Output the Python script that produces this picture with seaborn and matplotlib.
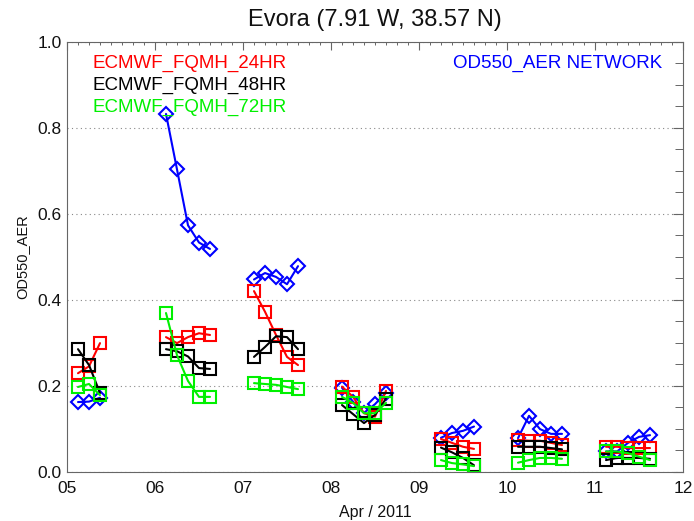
import numpy as np
import pandas as pd
import matplotlib
matplotlib.use("Agg")
import matplotlib.pyplot as plt
import seaborn as sns
from matplotlib.ticker import FixedLocator, MultipleLocator

# Observation / forecast times (day of April 2011, 3-hourly)
time_apr = [5.125, 5.25, 5.375,
            6.125, 6.25, 6.375, 6.5, 6.625,
            7.125, 7.25, 7.375, 7.5, 7.625,
            8.125, 8.25, 8.375, 8.5, 8.625,
            9.25, 9.375, 9.5, 9.625,
            10.125, 10.25, 10.375, 10.5, 10.625,
            11.125, 11.25, 11.375, 11.5, 11.625]

aod_network = [0.162, 0.163, 0.172,
               0.832, 0.703, 0.573, 0.533, 0.518,
               0.447, 0.462, 0.453, 0.436, 0.478,
               0.195, 0.163, 0.137, 0.157, 0.184,
               0.079, 0.090, 0.095, 0.105,
               0.078, 0.130, 0.099, 0.088, 0.088,
               0.047, 0.047, 0.067, 0.081, 0.085]

aod_24hr = [0.229, 0.245, 0.299,
            0.313, 0.299, 0.313, 0.322, 0.318,
            0.420, 0.372, 0.318, 0.267, 0.248,
            0.198, 0.174, 0.136, 0.128, 0.188,
            0.076, 0.067, 0.058, 0.053,
            0.074, 0.072, 0.072, 0.067, 0.062,
            0.058, 0.058, 0.055, 0.055, 0.055]

aod_48hr = [0.285, 0.248, 0.183,
            0.285, 0.280, 0.268, 0.241, 0.239,
            0.267, 0.290, 0.315, 0.313, 0.285,
            0.155, 0.134, 0.113, 0.132, 0.170,
            0.056, 0.045, 0.032, 0.015,
            0.058, 0.058, 0.058, 0.055, 0.052,
            0.027, 0.032, 0.032, 0.032, 0.030]

aod_72hr = [0.197, 0.204, 0.178,
            0.369, 0.271, 0.211, 0.174, 0.174,
            0.206, 0.204, 0.202, 0.197, 0.192,
            0.174, 0.160, 0.136, 0.136, 0.160,
            0.027, 0.020, 0.017, 0.013,
            0.021, 0.027, 0.032, 0.032, 0.030,
            0.047, 0.047, 0.043, 0.035, 0.027]

series_names = ["OD550_AER NETWORK", "ECMWF_FQMH_24HR", "ECMWF_FQMH_48HR", "ECMWF_FQMH_72HR"]
series_colors = ["#0000ff", "#ff0000", "#000000", "#00f000"]
series_markers = ["D", "s", "s", "s"]

day_ticks = [5, 6, 7, 8, 9, 10, 11, 12]
day_labels = ["05", "06", "07", "08", "09", "10", "11", "12"]
aod_ticks = [0.0, 0.2, 0.4, 0.6, 0.8, 1.0]

frames = []
for name, vals in zip(series_names, [aod_network, aod_24hr, aod_48hr, aod_72hr]):
    frames.append(pd.DataFrame({"time": time_apr, "aod": vals, "series": name}))
df = pd.concat(frames, ignore_index=True)
df["day"] = np.floor(df["time"]).astype(int)

sns.set_theme(style="white")
plt.rcParams["font.family"] = ["Liberation Sans", "DejaVu Sans"]

fig = plt.figure(figsize=(6.94, 5.21), dpi=100)
ax = fig.add_axes([67 / 694, (521 - 471.7) / 521, 616 / 694, 430 / 521])

for name, col, mk in zip(series_names, series_colors, series_markers):
    sub = df[df["series"] == name]
    sns.lineplot(data=sub, x="time", y="aod", units="day", estimator=None,
                 sort=False, color=col, marker=mk,
                 markersize=7.5 if mk == "D" else 8.5,
                 markerfacecolor="none", markeredgecolor=col,
                 markeredgewidth=1.5, linewidth=1.5, ax=ax, legend=False)

ax.set_xlim(5, 12)
ax.set_ylim(0, 1.0)
ax.xaxis.set_major_locator(FixedLocator(day_ticks))
ax.set_xticklabels(day_labels)
ax.xaxis.set_minor_locator(MultipleLocator(0.125))
ax.yaxis.set_major_locator(FixedLocator(aod_ticks))
ax.set_yticklabels([f"{v:.1f}" for v in aod_ticks])
ax.yaxis.set_minor_locator(MultipleLocator(0.05))

ax.tick_params(which="both", direction="in", top=True, right=True,
               color="#666666", labelsize=12.5, labelcolor="#111111")
ax.tick_params(axis="y", which="major", length=7, width=0.8, pad=4)
ax.tick_params(axis="y", which="minor", length=6, width=0.7)
ax.tick_params(axis="x", which="major", length=6, width=0.8, pad=7)
ax.tick_params(axis="x", which="minor", length=2.5, width=0.7)
for sp in ax.spines.values():
    sp.set_color("#666666")
    sp.set_linewidth(0.8)

ax.grid(axis="y", which="major", linestyle=(0, (1, 3)), color="#888888", linewidth=0.8)

ax.set_xlabel("Apr / 2011", fontsize=11.5, color="#111111", labelpad=6)
ax.set_ylabel("OD550_AER", fontsize=10.5, color="#111111", labelpad=6)

legend_y = [0.95, 0.899, 0.848]
for name, col, yy in zip(series_names[1:], series_colors[1:], legend_y):
    ax.text(0.041, yy, name, color=col, fontsize=13.5, ha="left", va="center",
            transform=ax.transAxes)
ax.text(0.966, 0.95, series_names[0], color=series_colors[0], fontsize=13.5,
        ha="right", va="center", transform=ax.transAxes)

fig.text(375 / 694, 1 - 20 / 521, "Evora (7.91 W, 38.57 N)", fontsize=17,
         ha="center", va="center", color="#111111")

fig.savefig("out.png", dpi=100)
